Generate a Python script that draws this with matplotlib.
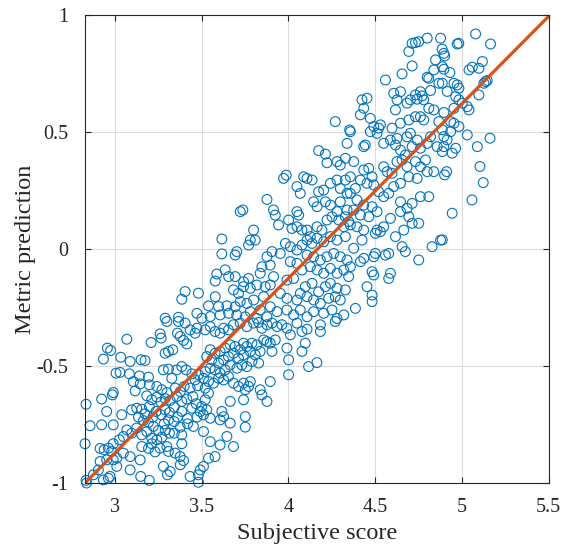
import matplotlib
matplotlib.use("Agg")
import matplotlib.pyplot as plt
import numpy as np

plt.rcParams["font.family"] = ["Liberation Serif", "DejaVu Serif"]
plt.rcParams["axes.unicode_minus"] = False

# (subjective score, metric prediction) pairs, grouped by score band
band_low = [
    (3.068, -0.385), (2.956, -0.423), (2.975, -0.433), (2.933, -0.470), (3.033, -0.462),
    (3.087, -0.480), (3.150, -0.473), (3.173, -0.476), (3.208, -0.399), (3.260, -0.362),
    (3.266, -0.380), (3.289, -0.445), (3.308, -0.437), (3.333, -0.430), (3.360, -0.359),
    (3.376, -0.373), (3.395, -0.390), (3.414, -0.405), (3.433, -0.345), (3.472, -0.338),
    (3.462, -0.359), (3.299, -0.309), (3.366, -0.309), (3.404, -0.316), (3.006, -0.530),
    (3.029, -0.527), (3.083, -0.533), (3.141, -0.542), (3.193, -0.547), (3.279, -0.516),
    (3.308, -0.513), (3.356, -0.516), (3.327, -0.552), (3.385, -0.502), (3.410, -0.516),
    (3.443, -0.533), (3.462, -0.559), (3.481, -0.537), (3.106, -0.566), (3.145, -0.576),
    (3.116, -0.606), (3.198, -0.580), (3.241, -0.587), (3.270, -0.601), (3.299, -0.613),
    (3.347, -0.594), (3.376, -0.609), (3.399, -0.587), (3.433, -0.594), (3.476, -0.584),
    (2.990, -0.613), (2.985, -0.623), (2.923, -0.641), (3.183, -0.627), (3.212, -0.644),
    (3.241, -0.633), (3.264, -0.654), (3.289, -0.639), (3.318, -0.647), (3.356, -0.630),
    (3.385, -0.651), (3.414, -0.641), (3.449, -0.630), (3.468, -0.661), (2.833, -0.663),
    (2.952, -0.694), (3.039, -0.708), (3.096, -0.687), (3.125, -0.680), (3.154, -0.684),
    (3.173, -0.704), (3.198, -0.673), (3.218, -0.718), (3.237, -0.694), (3.266, -0.708),
    (3.289, -0.687), (3.314, -0.698), (3.341, -0.676), (3.360, -0.718), (3.385, -0.694),
    (3.418, -0.724), (3.443, -0.680), (3.472, -0.718), (3.491, -0.694), (3.135, -0.718),
    (3.164, -0.733), (3.193, -0.741), (3.221, -0.758), (3.250, -0.775), (3.283, -0.747),
    (3.308, -0.730), (3.341, -0.737), (3.376, -0.761), (3.418, -0.747), (3.452, -0.758),
    (2.856, -0.755), (2.923, -0.751), (2.990, -0.751), (3.068, -0.773), (3.096, -0.787),
    (3.125, -0.765), (3.154, -0.794), (3.183, -0.780), (3.289, -0.775), (3.314, -0.787),
    (3.341, -0.787), (3.385, -0.794), (3.212, -0.808), (3.241, -0.815), (3.270, -0.804),
    (3.385, -0.832), (3.048, -0.801), (3.025, -0.815), (2.990, -0.832), (2.827, -0.832),
    (2.914, -0.852), (2.937, -0.858), (2.962, -0.851), (2.981, -0.865), (3.154, -0.844),
    (3.193, -0.852), (3.212, -0.832), (3.231, -0.867), (3.260, -0.851), (3.299, -0.844),
    (3.308, -0.865), (3.347, -0.872), (3.048, -0.872), (3.010, -0.894), (2.990, -0.901),
    (2.952, -0.901), (2.914, -0.908), (3.087, -0.887), (3.145, -0.901), (3.376, -0.887),
    (3.395, -0.904), (3.279, -0.929), (3.376, -0.922), (3.010, -0.929), (2.904, -0.944),
    (3.318, -0.951), (3.302, -0.965), (3.433, -0.972), (3.481, -0.965), (3.481, -0.997),
    (3.087, -0.944), (3.148, -0.972), (3.198, -0.989), (2.971, -0.972), (2.933, -0.987),
    (2.875, -0.965), (2.833, -0.989), (2.836, -1.000), (2.962, -0.980),
]

band_lower_mid = [
    (3.520, -0.345), (3.549, -0.331), (3.577, -0.352), (3.606, -0.359), (3.626, -0.338),
    (3.654, -0.345), (3.683, -0.323), (3.722, -0.316), (3.760, -0.331), (3.799, -0.316),
    (3.828, -0.313), (3.847, -0.338), (3.876, -0.323), (3.905, -0.316), (3.934, -0.331),
    (3.962, -0.323), (3.991, -0.338), (4.011, -0.366), (4.049, -0.316), (4.078, -0.352),
    (4.107, -0.342), (3.924, -0.388), (3.895, -0.402), (3.876, -0.395), (3.857, -0.388),
    (3.818, -0.409), (3.789, -0.402), (3.760, -0.416), (3.741, -0.402), (3.722, -0.430),
    (3.693, -0.416), (3.664, -0.409), (3.635, -0.423), (3.606, -0.437), (3.577, -0.445),
    (3.549, -0.430), (3.529, -0.459), (3.558, -0.473), (3.597, -0.487), (3.626, -0.473),
    (3.654, -0.459), (3.683, -0.445), (3.712, -0.466), (3.741, -0.452), (3.780, -0.437),
    (3.808, -0.452), (3.828, -0.487), (3.789, -0.480), (3.760, -0.502), (3.731, -0.495),
    (3.703, -0.509), (3.664, -0.495), (3.635, -0.516), (3.606, -0.530), (3.577, -0.516),
    (3.549, -0.509), (3.520, -0.523), (3.510, -0.552), (3.539, -0.566), (3.568, -0.573),
    (3.597, -0.552), (3.626, -0.559), (3.654, -0.544), (3.683, -0.573), (3.712, -0.587),
    (3.741, -0.573), (3.770, -0.587), (3.751, -0.601), (3.780, -0.566), (3.895, -0.566),
    (3.837, -0.601), (3.847, -0.623), (3.876, -0.651), (3.741, -0.644), (3.664, -0.651),
    (3.616, -0.694), (3.626, -0.716), (3.664, -0.744), (3.606, -0.730), (3.549, -0.723),
    (3.529, -0.687), (3.510, -0.708), (3.500, -0.673), (3.520, -0.644), (3.539, -0.616),
    (3.520, -0.594), (3.751, -0.716), (3.751, -0.761), (3.510, -0.780), (3.549, -0.823),
    (3.606, -0.837), (3.645, -0.801), (3.683, -0.844), (3.577, -0.887), (3.539, -0.894),
    (3.510, -0.929), (3.491, -0.944), (3.905, -0.437), (3.837, -0.437), (3.991, -0.423),
    (4.078, -0.437), (4.001, -0.473), (4.001, -0.537), (4.116, -0.502), (4.184, -0.323),
    (4.270, -0.309), (4.184, -0.352), (4.164, -0.485), (4.097, -0.402),
]

band_left_upper = [
    (3.616, 0.044), (3.616, -0.020), (3.587, -0.106), (3.578, -0.136), (3.635, -0.088),
    (3.655, -0.117), (3.404, -0.181), (3.385, -0.214), (3.481, -0.188), (3.578, -0.203),
    (3.539, -0.242), (3.597, -0.245), (3.645, -0.242), (3.289, -0.295), (3.366, -0.291),
    (3.472, -0.274), (3.501, -0.295), (3.549, -0.288), (3.606, -0.281), (3.655, -0.274),
]

band_mid = [
    (4.174, 0.422), (4.213, 0.407), (4.222, 0.370), (4.280, 0.375), (4.299, 0.360),
    (4.338, 0.453), (4.328, 0.389), (3.972, 0.303), (3.987, 0.317), (3.876, 0.213),
    (3.737, 0.168), (3.722, 0.161), (4.088, 0.310), (4.107, 0.303), (4.136, 0.296),
    (4.049, 0.268), (4.068, 0.239), (4.174, 0.246), (4.203, 0.253), (4.242, 0.282),
    (4.280, 0.296), (4.328, 0.296), (4.299, 0.260), (4.338, 0.239), (3.914, 0.168),
    (3.924, 0.146), (4.001, 0.125), (4.049, 0.161), (4.059, 0.146), (4.145, 0.203),
    (4.165, 0.182), (4.213, 0.203), (4.242, 0.189), (4.280, 0.161), (4.299, 0.203),
    (4.328, 0.139), (4.338, 0.168), (3.943, 0.104), (4.020, 0.089), (4.049, 0.096),
    (4.078, 0.082), (4.107, 0.082), (4.126, 0.054), (4.165, 0.096), (4.193, 0.082),
    (4.222, 0.125), (4.251, 0.139), (4.290, 0.125), (4.319, 0.096), (4.347, 0.118),
    (3.799, 0.082), (3.780, 0.039), (3.808, 0.039), (3.770, 0.018), (3.702, -0.010),
    (3.693, -0.025), (3.905, -0.010), (3.953, -0.018), (3.876, -0.032), (3.895, -0.068),
    (3.847, -0.075), (3.837, -0.103), (3.770, -0.125), (3.741, -0.139), (3.693, -0.117),
    (3.982, 0.025), (4.011, 0.011), (4.049, -0.003), (4.078, 0.018), (4.107, 0.039),
    (4.136, 0.025), (4.165, 0.047), (4.203, 0.032), (4.242, 0.054), (4.280, 0.039),
    (4.328, 0.054), (4.011, -0.053), (4.049, -0.060), (4.107, -0.025), (4.145, -0.032),
    (4.184, -0.046), (4.222, -0.032), (4.261, -0.018), (4.299, -0.032), (4.338, -0.046),
    (4.078, -0.089), (4.126, -0.075), (4.165, -0.089), (4.203, -0.103), (4.242, -0.082),
    (4.280, -0.103), (4.319, -0.089), (4.347, -0.117), (3.991, -0.132), (4.030, -0.125),
    (3.914, -0.117), (3.895, -0.153), (3.866, -0.160), (3.818, -0.153), (3.780, -0.167),
    (3.741, -0.160), (3.712, -0.189), (3.683, -0.174), (4.097, -0.160), (4.136, -0.146),
    (4.174, -0.182), (4.213, -0.160), (4.242, -0.146), (4.280, -0.167), (4.328, -0.174),
    (3.953, -0.189), (3.991, -0.210), (4.049, -0.217), (4.068, -0.189), (4.107, -0.203),
    (4.145, -0.217), (4.184, -0.232), (4.232, -0.210), (4.270, -0.203), (4.299, -0.217),
    (3.857, -0.203), (3.799, -0.217), (3.760, -0.232), (3.722, -0.224), (3.693, -0.246),
    (3.780, -0.267), (3.837, -0.260), (3.895, -0.246), (3.934, -0.267), (3.991, -0.260),
    (4.030, -0.281), (4.068, -0.260), (4.107, -0.289), (4.145, -0.267), (4.203, -0.274),
    (4.251, -0.260), (4.280, -0.296), (4.319, -0.281), (3.876, -0.289), (3.818, -0.296),
    (3.751, -0.289), (3.702, -0.281),
]

band_upper_mid = [
    (4.357, 0.503), (4.472, 0.503), (4.511, 0.496), (4.549, 0.453), (4.588, 0.467),
    (4.617, 0.446), (4.626, 0.474), (4.684, 0.481), (4.703, 0.496), (4.742, 0.467),
    (4.713, 0.439), (4.761, 0.432), (4.800, 0.453), (4.819, 0.481), (4.857, 0.439),
    (4.434, 0.439), (4.443, 0.446), (4.646, 0.424), (4.674, 0.403), (4.376, 0.375),
    (4.434, 0.339), (4.463, 0.346), (4.482, 0.310), (4.549, 0.353), (4.569, 0.332),
    (4.597, 0.325), (4.626, 0.375), (4.655, 0.382), (4.684, 0.353), (4.732, 0.375),
    (4.761, 0.353), (4.790, 0.382), (4.800, 0.332), (4.838, 0.332), (4.742, 0.303),
    (4.694, 0.310), (4.646, 0.282), (4.607, 0.268), (4.578, 0.239), (4.549, 0.225),
    (4.520, 0.246), (4.492, 0.275), (4.453, 0.282), (4.415, 0.296), (4.386, 0.260),
    (4.357, 0.239), (4.357, 0.310), (4.395, 0.211), (4.434, 0.189), (4.482, 0.182),
    (4.511, 0.161), (4.463, 0.139), (4.415, 0.146), (4.376, 0.168), (4.357, 0.104),
    (4.395, 0.096), (4.434, 0.082), (4.511, 0.082), (4.549, 0.096), (4.588, 0.132),
    (4.646, 0.203), (4.684, 0.175), (4.713, 0.196), (4.761, 0.225), (4.809, 0.225),
    (4.646, 0.161), (4.694, 0.139), (4.713, 0.111), (4.751, 0.111), (4.665, 0.082),
    (4.617, 0.054), (4.655, 0.011), (4.674, -0.010), (4.578, -0.018), (4.559, -0.025),
    (4.501, -0.018), (4.492, -0.032), (4.434, -0.039), (4.415, -0.053), (4.376, 0.004),
    (4.424, 0.039), (4.501, 0.068), (4.530, 0.075), (4.751, -0.046), (4.828, 0.011),
    (4.877, 0.039), (4.357, -0.075), (4.482, -0.096), (4.492, -0.110), (4.588, -0.103),
    (4.578, -0.125), (4.453, -0.160), (4.482, -0.196), (4.482, -0.224), (4.386, -0.253),
]

band_high = [
    (4.800, 0.903), (4.751, 0.888), (4.732, 0.884), (4.713, 0.881), (4.694, 0.846),
    (4.848, 0.810), (4.713, 0.784), (4.655, 0.750), (4.559, 0.724), (4.838, 0.767),
    (4.809, 0.731), (4.800, 0.736), (4.867, 0.710), (4.819, 0.679), (4.761, 0.674),
    (4.732, 0.660), (4.771, 0.656), (4.780, 0.639), (4.742, 0.642), (4.703, 0.639),
    (4.684, 0.625), (4.646, 0.674), (4.607, 0.667), (4.626, 0.639), (4.617, 0.596),
    (4.424, 0.639), (4.453, 0.646), (4.434, 0.603), (4.415, 0.575), (4.472, 0.560),
    (4.492, 0.525), (4.520, 0.518), (4.530, 0.532), (4.270, 0.546), (4.353, 0.510),
    (4.597, 0.518), (4.646, 0.539), (4.694, 0.553), (4.732, 0.567), (4.761, 0.567),
    (4.780, 0.553), (4.809, 0.603), (4.838, 0.596), (4.867, 0.546), (4.877, 0.903),
    (5.079, 0.921), (5.165, 0.878), (4.982, 0.881), (4.973, 0.878), (4.886, 0.856),
    (4.896, 0.838), (4.900, 0.827),
    (4.887, 0.781), (4.896, 0.770), (4.931, 0.756), (5.041, 0.767), (5.060, 0.779),
    (5.098, 0.774), (5.118, 0.803), (4.887, 0.710), (4.954, 0.710), (4.973, 0.703),
    (4.983, 0.689), (4.915, 0.675), (4.964, 0.653), (4.983, 0.639), (5.098, 0.660),
    (5.127, 0.710), (5.137, 0.717), (5.146, 0.722), (5.031, 0.610), (5.041, 0.596),
    (5.002, 0.625), (4.896, 0.585), (4.954, 0.603), (4.935, 0.546), (4.954, 0.539),
    (4.983, 0.525), (4.887, 0.511), (4.935, 0.503), (5.031, 0.489), (4.896, 0.482),
    (4.915, 0.468), (4.964, 0.432), (4.896, 0.439), (4.887, 0.418), (4.944, 0.411),
    (5.089, 0.439), (5.162, 0.475), (5.104, 0.354), (5.123, 0.285), (4.912, 0.332),
    (4.900, 0.318), (5.058, 0.211), (4.944, 0.154), (4.887, 0.040),
]

fit_x = [2.827, 5.505]
fit_y = [-1.0, 1.0]

x_ticks = [3, 3.5, 4, 4.5, 5, 5.5]
x_tick_labels = ["3", "3.5", "4", "4.5", "5", "5.5"]
y_ticks = [-1, -0.5, 0, 0.5, 1]
y_tick_labels = ["-1", "-0.5", "0", "0.5", "1"]

points = np.array(band_low + band_lower_mid + band_left_upper + band_mid
                  + band_upper_mid + band_high)

fig = plt.figure(figsize=(5.63, 5.51), dpi=100)
ax = fig.add_axes([0.151, 0.1234, 0.825, 0.8485])

ax.scatter(points[:, 0], points[:, 1], s=50, facecolors="none",
           edgecolors="#0072BD", linewidths=0.8, clip_on=False, zorder=3)
ax.plot(fit_x, fit_y, color="#D95319", linewidth=2.3, zorder=4,
        solid_capstyle="butt")

ax.set_xlim(fit_x[0], fit_x[1])
ax.set_ylim(-1, 1)
ax.set_xticks(x_ticks)
ax.set_xticklabels(x_tick_labels)
ax.set_yticks(y_ticks)
ax.set_yticklabels(y_tick_labels)

ax.grid(True, color="#dcdcdc", linewidth=0.8, zorder=0)
ax.set_axisbelow(True)
for sp in ax.spines.values():
    sp.set_color("#262626")
    sp.set_linewidth(0.8)
    sp.set_zorder(5)

ax.tick_params(direction="in", top=True, right=True, length=4, width=0.8,
               colors="#262626", labelsize=14.5)
ax.tick_params(axis="x", pad=11)
ax.tick_params(axis="y", pad=12)
for lab in ax.get_xticklabels() + ax.get_yticklabels():
    lab.set_color("#262626")

ax.set_xlabel("Subjective score", fontsize=17.5, color="#262626", labelpad=4)
ax.set_ylabel("Metric prediction", fontsize=17.5, color="#262626", labelpad=0)

fig.savefig("out.png", dpi=100)
